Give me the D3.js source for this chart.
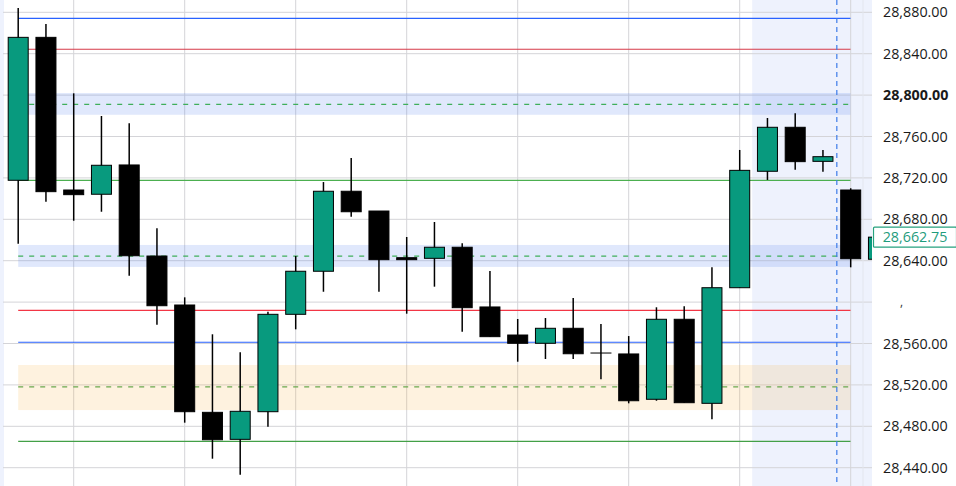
<!DOCTYPE html>
<html><head><meta charset="utf-8">
<script src="https://cdn.jsdelivr.net/npm/d3@7"></script>
<style>html,body{margin:0;padding:0;background:#fff;overflow:hidden}svg{display:block}</style>
</head><body>
<svg id="c" width="956" height="486"></svg>
<script>
// OHLC candles (index order, left to right)
const opens  = [28717.7,28855.8,28708.3,28704.2,28732.5,28644.5,28597.2,28493.5,28467.4,28494.1,28588.2,28629.8,28707.1,28688.0,28642.9,28642.3,28653.0,28595.3,28568.2,28560.2,28574.7,28550.8,28549.9,28506.1,28583.4,28502.2,28613.9,28726.4,28768.9,28736.0,28708.3,28641.4];
const highs  = [28884.2,28868.7,28801.7,28779.8,28772.8,28671.3,28604.6,28568.9,28551.5,28590.7,28644.5,28716.0,28739.2,28688.0,28662.9,28677.4,28656.8,28630.0,28583.7,28584.6,28604.0,28578.8,28567.2,28595.0,28595.9,28633.6,28747.0,28777.9,28782.4,28747.0,28710.0,28662.75];
const lows   = [28656.4,28697.0,28678.6,28687.3,28625.5,28578.2,28483.5,28448.7,28433.2,28479.6,28573.7,28610.0,28682.5,28610.0,28588.8,28614.9,28571.4,28566.6,28542.4,28545.0,28545.0,28525.4,28502.2,28504.7,28502.8,28486.8,28613.9,28718.0,28727.9,28726.0,28633.6,28641.4];
const closes = [28855.8,28706.7,28703.8,28732.2,28644.8,28596.5,28494.1,28467.0,28494.5,28588.2,28629.8,28707.1,28687.3,28641.0,28641.0,28653.0,28594.6,28566.6,28560.2,28574.7,28550.1,28550.8,28504.7,28583.4,28502.8,28613.9,28727.3,28768.9,28735.7,28740.5,28641.9,28662.75];

// price axis ticks
const tickValues = [28880,28840,28800,28760,28720,28680,28640,28560,28520,28480,28440];
const boldTick = 28800;
const lastPrice = 28662.75;

// horizontal levels
const solidLevels = [28874.2, 28844.3, 28717.7, 28592.0, 28561.2, 28465.5];
const solidColors = ["#2962ff", "#d63a48", "#4caf50", "#f23645", "#2962ff", "#43a047"];
const zoneTops = [28802.0, 28655.2, 28539.2];
const zoneBottoms = [28781.0, 28634.0, 28495.7];
const zoneMids = [28791.1, 28644.5, 28518.0];
const zoneColors = ["#4a78f0", "#4a78f0", "#f9a825"];
const zoneMidColors = ["#3fae5a", "#3fae5a", "#6aa84f"];

// vertical session markers (candle index positions)
const gridIdx = [2,6,10,14,18,22,26,30];
const sessionStartIdx = 26.45;
const dashedIdx = 29.5;

const svg = d3.select("#c");
const W = 956, H = 486, plotRight = 872, levelRight = 850.5;
const y = d3.scaleLinear().domain([28440, 28880]).range([467.7, 12.3]);
const x = d3.scaleLinear().domain([0, 31]).range([18.2, 18.2 + 27.75*31]);
const bw = 20;
const fmt = d3.format(",.2f");

const defs = svg.append("defs");
defs.append("clipPath").attr("id","plot").append("rect").attr("x",0).attr("y",0).attr("width",plotRight).attr("height",H);

const g = svg.append("g").attr("clip-path","url(#plot)");

// left faint strip & session shading
g.append("rect").attr("x",0).attr("y",0).attr("width",4).attr("height",H).attr("fill","#eef2fd");
g.append("rect").attr("x",x(sessionStartIdx)).attr("y",0).attr("width",plotRight - x(sessionStartIdx)).attr("height",H).attr("fill","#eef2fd");

// gridlines
const hTicks = d3.range(28440, 28881, 40);
g.selectAll(".hg").data(hTicks).join("line")
  .attr("x1",3).attr("x2",plotRight).attr("y1",d=>y(d)).attr("y2",d=>y(d))
  .attr("stroke","#d4d4d8").attr("stroke-width",1);
g.selectAll(".vg").data(gridIdx).join("line")
  .attr("x1",d=>x(d)).attr("x2",d=>x(d)).attr("y1",0).attr("y2",H)
  .attr("stroke","#d4d4d8").attr("stroke-width",1);
g.append("line").attr("x1",863).attr("x2",863).attr("y1",0).attr("y2",H).attr("stroke","#e3e6ee");

// zones
zoneTops.forEach((t,i)=>{
  g.append("rect").attr("x",x(0)).attr("y",y(t)).attr("width",levelRight - x(0)).attr("height",y(zoneBottoms[i]) - y(t))
    .attr("fill",zoneColors[i]).attr("fill-opacity", i===2?0.15:0.17);
  g.append("line").attr("x1",x(0)).attr("x2",levelRight).attr("y1",y(zoneMids[i])).attr("y2",y(zoneMids[i]))
    .attr("stroke",zoneMidColors[i]).attr("stroke-width",1.2).attr("stroke-dasharray","5,6");
});

// solid levels
solidLevels.forEach((v,i)=>{
  g.append("line").attr("x1",x(0)).attr("x2",levelRight).attr("y1",y(v)).attr("y2",y(v))
    .attr("stroke",solidColors[i]).attr("stroke-width",1.2);
});

// vertical dashed marker
g.append("line").attr("x1",x(dashedIdx)).attr("x2",x(dashedIdx)).attr("y1",0).attr("y2",H)
  .attr("stroke","#3d7be8").attr("stroke-width",1.2).attr("stroke-dasharray","5,4");

// candles
const data = opens.map((o,i)=>({i,o,h:highs[i],l:lows[i],c:closes[i]}));
const cg = g.selectAll(".cd").data(data).join("g");
cg.append("line").attr("x1",d=>x(d.i)).attr("x2",d=>x(d.i)).attr("y1",d=>y(d.h)).attr("y2",d=>y(d.l))
  .attr("stroke","#000").attr("stroke-width",1.5);
cg.append("rect")
  .attr("x",d=>x(d.i)-bw/2).attr("width",bw)
  .attr("y",d=>y(Math.max(d.o,d.c)))
  .attr("height",d=>Math.max(0.01, Math.abs(y(d.o)-y(d.c))))
  .attr("fill",d=>d.c>d.o?"#089a7e":"#000")
  .attr("stroke","#000").attr("stroke-width",1);

// axis labels
const ax = svg.append("g");
ax.selectAll("text.t").data(tickValues).join("text")
  .attr("x",883).attr("y",d=>y(d)).attr("dy","0.36em")
  .attr("font-family","'Open Sans', 'Noto Sans', sans-serif").attr("font-size",14.3)
  .attr("font-weight",d=>d===boldTick?"bold":"normal")
  .attr("fill","#1a1a1a").text(d=>fmt(d));
ax.append("text").attr("x",900).attr("y",y(28600)+4).attr("font-family","'Open Sans', sans-serif").attr("font-size",12).attr("fill","#333").text(",");

// last price box
const ly = y(lastPrice);
ax.append("rect").attr("x",873.5).attr("y",ly-10).attr("width",83).attr("height",20)
  .attr("fill","#fff").attr("stroke","#26a17f").attr("stroke-width",1.2).attr("rx",1);
ax.append("text").attr("x",915).attr("y",ly).attr("dy","0.36em").attr("text-anchor","middle")
  .attr("font-family","'Open Sans', 'Noto Sans', sans-serif").attr("font-size",14.3)
  .attr("fill","#1f9c7c").text(fmt(lastPrice));
</script>
</body></html>
